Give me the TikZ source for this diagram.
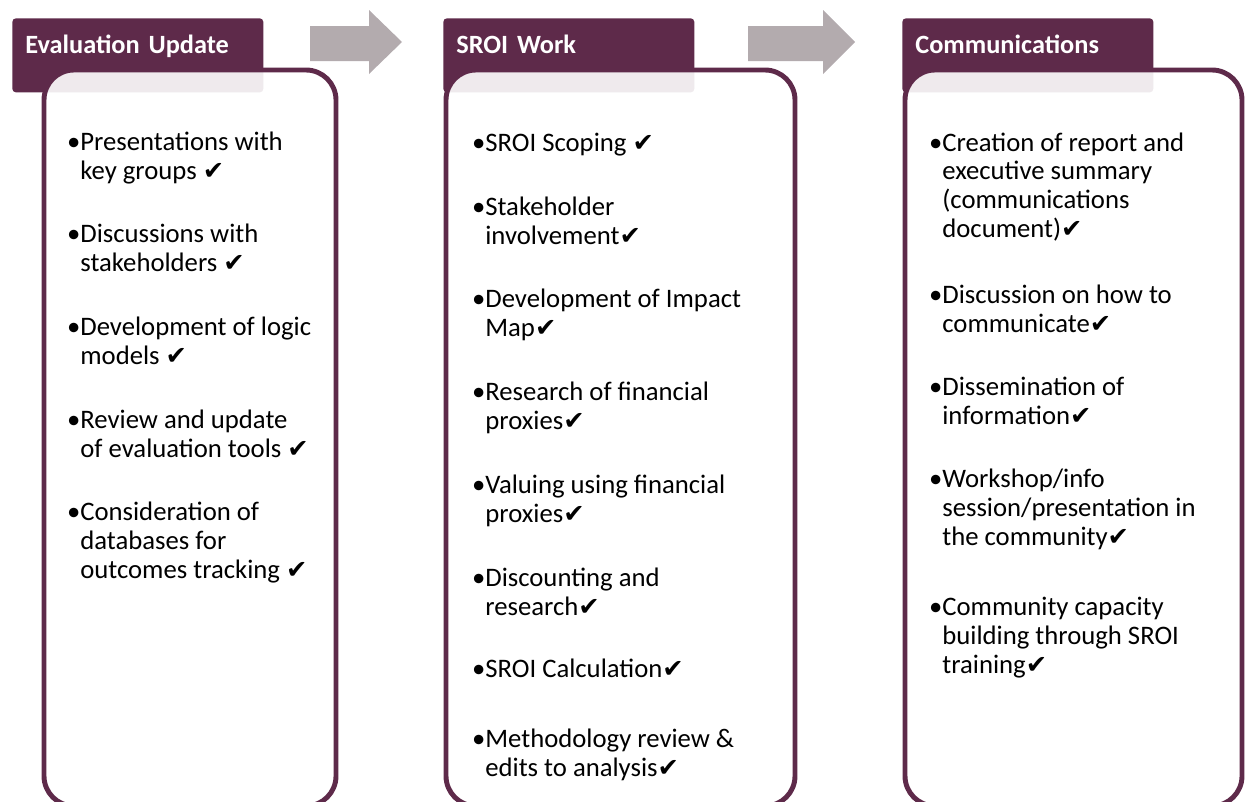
\documentclass[tikz,border=0pt]{standalone}
\usepackage{fontspec}
\setmainfont{Carlito}
\newfontfamily\tickfont{DejaVu Sans}
\usepackage{tikz}
\usetikzlibrary{positioning}
\definecolor{plum}{HTML}{5E2A4A}
\definecolor{flowgrey}{HTML}{B3ABAE}
\newcommand{\tick}{{\tickfont\fontsize{14.5}{14.5}\selectfont ✔}}
\newcommand{\itemsize}{\fontsize{15.2}{16.3}\selectfont}
\tikzset{
  phase/.style ={rectangle, rounded corners=2pt, fill=plum, anchor=north west,
                 inner xsep=0.26cm, inner ysep=0pt, text width=4.5cm,
                 text height=0.7cm, text depth=0.78cm, align=left,
                 text=white, font=\fontsize{15}{15}\selectfont\bfseries},
  panel/.style ={draw=plum, line width=2.8pt, rounded corners=0.6cm,
                 fill=white, fill opacity=0.9},
  flow/.style  ={fill=flowgrey},
  % anchored on the baseline of the last line
  task/.style  ={anchor=base west, inner sep=0pt, align=left, font=\itemsize},
}
\newcommand{\blockarrow}[3]{% left end, start of head, tip
  \fill[flow] (#1,26) -- (#2,26) -- (#2,10) -- (#3,42) -- (#2,74)
              -- (#2,61) -- (#1,61) -- cycle;}

\begin{document}
\begin{tikzpicture}[x=0.02cm, y=-0.02cm]
\useasboundingbox (0,0) rectangle (1247,801);
\clip (0,0) rectangle (1247,801);

% arrows between the phases
\blockarrow{310}{369}{402}
\blockarrow{748}{823}{855}

% phase headers
\node[phase] (evalhd) at (12,18)  {Evaluation Update};
\node[phase] (sroihd) at (443,18) {SROI Work};
\node[phase] (commhd) at (902,18) {Communications};

% rounded frames, drawn over the foot of each header
\draw[panel] (44,70)  rectangle (336,806);
\draw[panel] (446,70) rectangle (795,806);
\draw[panel] (905,70) rectangle (1242,806);

% Evaluation Update
\node[task] (ev1) at (80,179) {\llap{•}Presentations with\\key groups \tick};
\node[task] (ev2) at (80,271) {\llap{•}Discussions with\\stakeholders \tick};
\node[task] (ev3) at (80,364) {\llap{•}Development of logic\\models \tick};
\node[task] (ev4) at (80,457) {\llap{•}Review and update\\of evaluation tools \tick};
\node[task] (ev5) at (80,578) {\llap{•}Consideration of\\databases for\\outcomes tracking \tick};

% SROI Work
\node[task] (sw1) at (485,151) {\llap{•}SROI Scoping \tick};
\node[task] (sw2) at (485,244) {\llap{•}Stakeholder\\involvement\tick};
\node[task] (sw3) at (485,336) {\llap{•}Development of Impact\\Map\tick};
\node[task] (sw4) at (485,429) {\llap{•}Research of financial\\proxies\tick};
\node[task] (sw5) at (485,522) {\llap{•}Valuing using financial\\proxies\tick};
\node[task] (sw6) at (485,615) {\llap{•}Discounting and\\research\tick};
\node[task] (sw7) at (485,677) {\llap{•}SROI Calculation\tick};
\node[task] (sw8) at (485,776) {\llap{•}Methodology review \&\\edits to analysis\tick};

% Communications
\node[task] (cm1) at (942,237) {\llap{•}Creation of report and\\executive summary\\(communications\\document)\tick};
\node[task] (cm2) at (942,332) {\llap{•}Discussion on how to\\communicate\tick};
\node[task] (cm3) at (942,424) {\llap{•}Dissemination of\\information\tick};
\node[task] (cm4) at (942,545) {\llap{•}Workshop/info\\session/presentation in\\the community\tick};
\node[task] (cm5) at (942,673) {\llap{•}Community capacity\\building through SROI\\training\tick};
\end{tikzpicture}
\end{document}
